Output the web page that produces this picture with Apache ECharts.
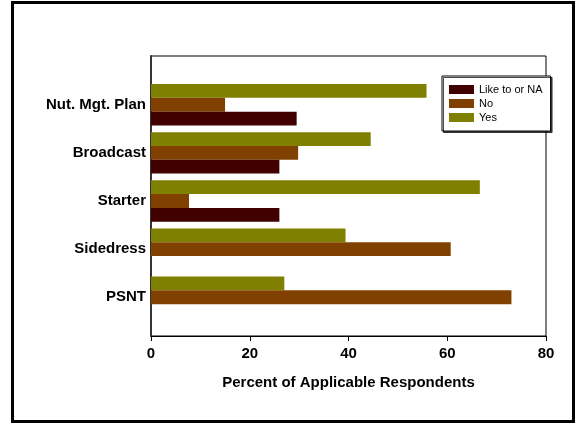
<!DOCTYPE html>
<html>
<head>
<meta charset="utf-8">
<script src="https://cdn.jsdelivr.net/npm/echarts@6/dist/echarts.min.js"></script>
<style>
html,body{margin:0;padding:0;background:#fff;}
#c{width:579px;height:424px;}
</style>
</head>
<body>
<div id="c"></div>
<script>
var categories = ['Nut. Mgt. Plan', 'Broadcast', 'Starter', 'Sidedress', 'PSNT'];
var likeToOrNA = [29.5, 26, 26, null, null];
var noValues = [15, 29.8, 7.7, 60.7, 73];
var yesValues = [55.8, 44.5, 66.6, 39.4, 27];
var seriesNames = ['Like to or NA', 'No', 'Yes'];
var xTicks = [0, 20, 40, 60, 80];

var FONT = "'Liberation Sans', Arial, sans-serif";
var chart = echarts.init(document.getElementById('c'), null, {renderer: 'canvas'});
var L = 151, W = 395;
chart.setOption({
  animation: false,
  backgroundColor: '#fff',
  graphic: [{
    type: 'rect', silent: true, z: 100,
    shape: {x: 12.5, y: 2.5, width: 561, height: 419},
    style: {fill: 'none', stroke: '#000', lineWidth: 3}
  }],
  legend: {
    data: seriesNames,
    orient: 'vertical',
    left: 442, top: 76,
    icon: 'rect',
    itemWidth: 25, itemHeight: 9, itemGap: 3,
    padding: [8, 8, 8, 7],
    backgroundColor: '#fff',
    borderColor: '#000', borderWidth: 1,
    shadowColor: 'rgba(0,0,0,0.7)', shadowOffsetX: 1.5, shadowOffsetY: 1.5, shadowBlur: 0,
    textStyle: {fontFamily: FONT, fontSize: 11, color: '#000', padding: [0, 0, 0, 0]}
  },
  grid: [
    {left: L, width: W, top: 80.7, height: 240.6, containLabel: false},
    {left: L, width: W, top: 56, height: 280, show: true, borderColor: '#000', borderWidth: 1, backgroundColor: 'transparent', z: 0}
  ],
  xAxis: [
    {gridIndex: 0, type: 'value', min: 0, max: 80, interval: 20, show: false},
    {gridIndex: 1, type: 'value', min: 0, max: 80, interval: 20,
     name: 'Percent of Applicable Respondents', nameLocation: 'middle', nameGap: 39,
     nameTextStyle: {fontFamily: FONT, fontSize: 15, fontWeight: 'bold', color: '#000'},
     axisLine: {show: true, lineStyle: {color: '#000', width: 1}},
     axisTick: {show: true, length: 5, inside: false, lineStyle: {color: '#000'}},
     splitLine: {show: false},
     axisLabel: {margin: 10, fontFamily: FONT, fontSize: 15, fontWeight: 'bold', color: '#000',
       formatter: function (v) { return xTicks.indexOf(v) >= 0 ? String(v) : ''; }}
    }
  ],
  yAxis: [
    {gridIndex: 0, type: 'category', data: categories, inverse: true,
     axisLine: {show: false}, axisTick: {show: false},
     axisLabel: {margin: 5, fontFamily: FONT, fontSize: 15, fontWeight: 'bold', color: '#000'}},
    {gridIndex: 1, type: 'value', min: 0, max: 1, show: true,
     axisLine: {show: true, lineStyle: {color: '#333', width: 2}},
     axisTick: {show: false}, axisLabel: {show: false}, splitLine: {show: false}}
  ],
  series: [
    {name: 'Yes', type: 'bar', xAxisIndex: 0, yAxisIndex: 0, data: yesValues,
     barGap: '0%', barCategoryGap: '14%', itemStyle: {color: '#808000'}},
    {name: 'No', type: 'bar', xAxisIndex: 0, yAxisIndex: 0, data: noValues,
     barGap: '0%', barCategoryGap: '14%', itemStyle: {color: '#804000'}},
    {name: 'Like to or NA', type: 'bar', xAxisIndex: 0, yAxisIndex: 0, data: likeToOrNA,
     barGap: '0%', barCategoryGap: '14%', itemStyle: {color: '#400000'}}
  ]
});
</script>
</body>
</html>
